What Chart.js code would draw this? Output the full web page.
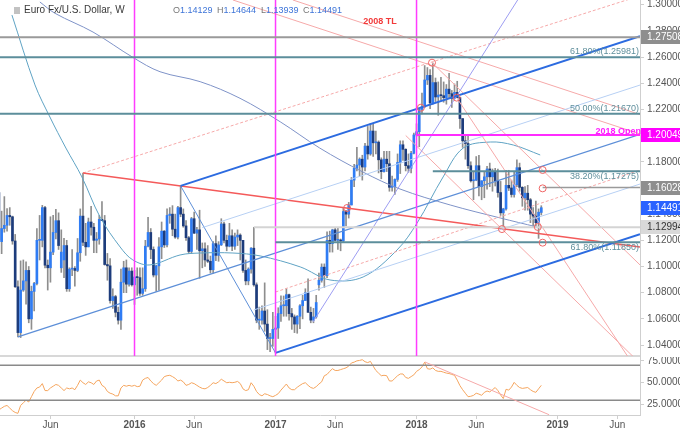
<!DOCTYPE html>
<html><head><meta charset="utf-8">
<script src="https://cdn.jsdelivr.net/npm/chart.js@4.4.1/dist/chart.umd.min.js"></script>
<style>
html,body{margin:0;padding:0;background:#fff;}
#wrap{position:relative;width:680px;height:432px;overflow:hidden;font-family:"Liberation Sans",Arial,sans-serif;}
#cA{position:absolute;left:0;top:0;}
#cB{position:absolute;left:0;top:357px;}
.t{position:absolute;top:4px;font-size:10px;line-height:12px;color:#3a3a3a;white-space:nowrap;}
.o{font-size:9px;}
.k{color:#777;}
.v{color:#3d74d8;}
#icon{position:absolute;left:14px;top:7px;width:6px;height:7px;background:#c2c2c2;}
</style></head><body>
<div id="wrap">
<canvas id="cA" width="680" height="358"></canvas>
<canvas id="cB" width="680" height="75"></canvas>
<div id="icon"></div>
<div class="t" style="left:24px">Euro Fx/U.S. Dollar, W</div>
<div class="t o" style="left:173px"><span class="k">O</span><span class="v" id="vo"></span></div>
<div class="t o" style="left:217px"><span class="k">H</span><span class="v" id="vh"></span></div>
<div class="t o" style="left:261px"><span class="k">L</span><span class="v" id="vl"></span></div>
<div class="t o" style="left:303px"><span class="k">C</span><span class="v" id="vc"></span></div>
</div>
<script>
// ---- weekly bars; x = week number counted from 2016-01-04 (first bar = 2015-01-19) ----
const firstWeek = -50;
const opens = [
1.1565,1.1190,1.1290,1.1315,1.1390,1.1380,1.1195,1.0845,1.0495,1.0820,
1.0890,1.0970,1.0600,1.0810,1.0870,1.1200,1.1200,1.1450,1.1010,1.0990,
1.1110,1.1260,1.1350,1.0990,1.1050,1.1160,1.0830,1.0980,1.0985,1.0970,
1.1105,1.1385,1.1185,1.1150,1.1340,1.1300,1.1200,1.1210,1.1360,1.1350,
1.1015,1.1005,1.0740,1.0770,1.0650,1.0590,1.0880,1.0990,1.0865,1.0965,
1.0860,1.0920,1.0915,1.0795,1.0830,1.1155,1.1260,1.1130,1.0935,1.1005,
1.1150,1.1270,1.1165,1.1390,1.1400,1.1285,1.1225,1.1450,1.1400,1.1310,
1.1220,1.1115,1.1365,1.1255,1.1280,1.1120,1.1135,1.1050,1.1040,1.0975,
1.1175,1.1085,1.1165,1.1325,1.1200,1.1155,1.1235,1.1155,1.1225,1.1240,
1.1200,1.0970,1.0890,1.0980,1.1140,1.0860,1.0590,1.0590,1.0660,1.0560,
1.0450,1.0450,
1.0520,1.0530,1.0640,1.0700,1.0700,1.0785,1.0640,1.0615,1.0560,1.0620,
1.0700,1.0740,1.0800,1.0650,1.0590,1.0615,1.0860,1.0895,1.0995,1.0930,
1.1200,1.1175,1.1280,1.1200,1.1200,1.1195,1.1420,1.1400,1.1470,1.1660,
1.1750,1.1775,1.1820,1.1760,1.1920,1.1860,1.2035,1.1945,1.1950,1.1815,
1.1725,1.1820,1.1785,1.1605,1.1610,1.1665,1.1795,1.1930,1.1895,1.1770,
1.1750,1.1865,
1.2005,1.2030,1.2200,1.2220,1.2425,1.2460,1.2250,1.2405,1.2295,1.2310,
1.2305,1.2290,1.2355,1.2320,1.2285,1.2330,1.2290,1.2130,1.1960,1.1940,
1.1770,1.1655,1.1660,1.1770,1.1610,1.1655,1.1685,1.1745,1.1685,1.1720,
1.1655,1.1565,1.1410,1.1440,1.1620,1.1600,1.1550,1.1625,1.1755,1.1605,
1.1525,1.1560,1.1510,1.1400,1.1385,1.1335,1.14129];
const highs = [
1.1640,1.1423,1.1534,1.1443,1.1450,1.1385,1.1245,1.0890,1.1043,1.1050,
1.1035,1.1000,1.0850,1.0880,1.1290,1.1390,1.1467,1.1460,1.1050,1.1380,
1.1390,1.1436,1.1410,1.1280,1.1215,1.1200,1.0990,1.1130,1.1000,1.1214,
1.1440,1.1714,1.1330,1.1370,1.1460,1.1330,1.1260,1.1390,1.1495,1.1390,
1.1100,1.1060,1.0830,1.0780,1.0690,1.0980,1.1040,1.1050,1.0990,1.0990,
1.0970,1.0990,1.0990,1.0990,1.1200,1.1376,1.1290,1.1150,1.1010,1.1220,
1.1340,1.1275,1.1440,1.1450,1.1465,1.1400,1.1460,1.1616,1.1440,1.1350,
1.1230,1.1375,1.1415,1.1300,1.1430,1.1180,1.1180,1.1160,1.1080,1.1190,
1.1235,1.1190,1.1365,1.1340,1.1240,1.1330,1.1280,1.1255,1.1280,1.1250,
1.1200,1.1050,1.0990,1.1145,1.1300,1.0875,1.0690,1.0700,1.0875,1.0670,
1.0490,1.0650,
1.0620,1.0685,1.0775,1.0775,1.0830,1.0790,1.0680,1.0630,1.0625,1.0710,
1.0780,1.0830,1.0905,1.0690,1.0680,1.0780,1.0950,1.1020,1.1020,1.1265,
1.1270,1.1285,1.1295,1.1296,1.1210,1.1445,1.1430,1.1490,1.1680,1.1780,
1.1910,1.1830,1.1850,1.1940,1.2070,1.2092,1.2090,1.2035,1.1960,1.1830,
1.1880,1.1880,1.1880,1.1690,1.1670,1.1860,1.1960,1.1960,1.1900,1.1860,
1.1880,1.2020,
1.2090,1.2200,1.2325,1.2535,1.2520,1.2505,1.2555,1.2440,1.2410,1.2445,
1.2410,1.2390,1.2475,1.2345,1.2395,1.2415,1.2290,1.2130,1.2000,1.1995,
1.1800,1.1725,1.1840,1.1850,1.1655,1.1720,1.1765,1.1790,1.1745,1.1750,
1.1745,1.1650,1.1445,1.1735,1.1735,1.1660,1.1720,1.1815,1.1790,1.1610,
1.1610,1.1620,1.1520,1.1450,1.1500,1.1440,1.14644];
const lows = [
1.1115,1.1098,1.1262,1.1270,1.1315,1.1170,1.0840,1.0462,1.0457,1.0810,
1.0712,1.0570,1.0520,1.0660,1.0860,1.1050,1.1150,1.0990,1.0820,1.0880,
1.1090,1.1210,1.1130,1.0955,1.0915,1.0810,1.0810,1.0930,1.0850,1.0960,
1.1040,1.1160,1.1085,1.1150,1.1240,1.1105,1.1105,1.1170,1.1350,1.1010,
1.0895,1.0720,1.0680,1.0615,1.0560,1.0520,1.0800,1.0800,1.0850,1.0850,
1.0710,1.0780,1.0780,1.0780,1.0810,1.1150,1.1060,1.0920,1.0810,1.0820,
1.1060,1.1145,1.1150,1.1330,1.1235,1.1215,1.1210,1.1380,1.1300,1.1200,
1.1100,1.1100,1.1250,1.1130,1.0910,1.0990,1.1000,1.1030,1.0950,1.0950,
1.1045,1.1040,1.1160,1.1180,1.1120,1.1150,1.1120,1.1130,1.1160,1.1050,
1.0955,1.0860,1.0860,1.0950,1.0850,1.0570,1.0520,1.0560,1.0505,1.0365,
1.0350,1.0390,
1.0340,1.0450,1.0580,1.0620,1.0620,1.0590,1.0520,1.0495,1.0490,1.0525,
1.0600,1.0740,1.0650,1.0570,1.0570,1.0605,1.0820,1.0880,1.0840,1.0915,
1.1110,1.1110,1.1195,1.1130,1.1120,1.1185,1.1310,1.1370,1.1470,1.1610,
1.1730,1.1690,1.1660,1.1730,1.1820,1.1850,1.1840,1.1860,1.1715,1.1670,
1.1720,1.1725,1.1575,1.1575,1.1550,1.1650,1.1710,1.1810,1.1730,1.1720,
1.1715,1.1860,
1.1995,1.1915,1.2165,1.2215,1.2390,1.2205,1.2240,1.2260,1.2155,1.2270,
1.2255,1.2240,1.2290,1.2215,1.2280,1.2290,1.2055,1.1910,1.1820,1.1750,
1.1645,1.1510,1.1655,1.1540,1.1510,1.1525,1.1590,1.1610,1.1575,1.1615,
1.1530,1.1390,1.1301,1.1430,1.1580,1.1530,1.1530,1.1610,1.1575,1.1460,
1.1430,1.1430,1.1335,1.1300,1.1310,1.1215,1.13939];
const closes = [
1.1204,1.1290,1.1315,1.1390,1.1380,1.1195,1.0845,1.0495,1.0820,1.0890,
1.0970,1.0600,1.0810,1.0870,1.1200,1.1200,1.1450,1.1010,1.0990,1.1110,
1.1260,1.1350,1.1160,1.1110,1.1160,1.0830,1.0980,1.0985,1.0970,1.1105,
1.1385,1.1185,1.1150,1.1340,1.1300,1.1200,1.1210,1.1360,1.1350,1.1015,
1.1005,1.0740,1.0770,1.0650,1.0590,1.0880,1.0990,1.0865,1.0965,1.0860,
1.0920,1.0915,1.0795,1.0830,1.1155,1.1260,1.1130,1.0935,1.1005,1.1150,
1.1270,1.1165,1.1390,1.1400,1.1285,1.1225,1.1450,1.1400,1.1310,1.1220,
1.1115,1.1365,1.1255,1.1280,1.1120,1.1135,1.1050,1.1040,1.0975,1.1175,
1.1085,1.1165,1.1325,1.1200,1.1155,1.1235,1.1155,1.1225,1.1240,1.1200,
1.0970,1.0890,1.0980,1.1140,1.0860,1.0590,1.0590,1.0660,1.0560,1.0450,
1.0450,1.0520,
1.0530,1.0640,1.0700,1.0700,1.0785,1.0640,1.0615,1.0560,1.0620,1.0700,
1.0740,1.0800,1.0650,1.0590,1.0615,1.0725,1.0895,1.0995,1.0930,1.1200,
1.1175,1.1280,1.1200,1.1200,1.1195,1.1420,1.1400,1.1470,1.1660,1.1750,
1.1775,1.1820,1.1760,1.1920,1.1860,1.2035,1.1945,1.1950,1.1815,1.1725,
1.1820,1.1785,1.1605,1.1610,1.1665,1.1795,1.1930,1.1895,1.1770,1.1750,
1.1865,1.2005,
1.2030,1.2200,1.2220,1.2425,1.2460,1.2250,1.2405,1.2295,1.2310,1.2305,
1.2290,1.2355,1.2320,1.2285,1.2330,1.2290,1.2130,1.1960,1.1940,1.1770,
1.1655,1.1660,1.1770,1.1610,1.1655,1.1685,1.1745,1.1685,1.1720,1.1655,
1.1565,1.1410,1.1440,1.1620,1.1600,1.1550,1.1625,1.1755,1.1605,1.1525,
1.1560,1.1510,1.1400,1.1385,1.1335,1.1415,1.14491];
// RSI(14), one value per bar
const rsiValues = [
19,21,23,24,21,18,16,15,24,27, 30,28,34,40,44,45,49,41,41,44,
46,48,47,44,41,44,43,44,42,47, 53,50,48,51,50,48,52,53,47,45,
40,38,37,35,35,44,47,46,47,46,
47,45.5,46,53,55,56,52,49,47,50, 53,57,58,58.5,57,55,52,53,51,47,
48,50,49,47,45,43.5,43,44.5,47,50, 49,51,54,52,50,50.5,50,50.5,51.5,49,
43,41,42,50,46,40,36.5,35,37.4,36.5, 35,34,35.5,37.5,41.5,45,48.5,44,42,42,
44.8,47,49,50,47,44.5,43.5,45.5,48.5,51, 58,59.5,63,66,64,64,65,66,67,69,
72.6,73.5,75,75.5,76.3,74,73,74.4,69,64, 61,58,58.5,58,52,52,55,58,60,60,
56,55,57,59,63,65,68,73.5,66,65.5, 67,64,63,63,62,61,60.5,59.5,58.5,53,
46.7,42,38,34,34.5,35.5,38,37,35.6,39, 40.5,39.5,42,44.5,41,36,31.9,42.5,41.5,45,
50.4,47,44.5,43.5,44,44.5,42,40,39,43, 47];
// moving averages: [week, price]
const ma52 = [[-45.2,1.2921],[-36.7,1.2387],[-31.2,1.2142],[-25.3,1.1905],[-19.4,1.1684],[-12.7,1.1378],[-5.3,1.1149],[-0.6,1.1050],[5.7,1.1012],[16.8,1.1088],[24.2,1.1103],[36.3,1.1103],[46.3,1.1081],[61.1,1.0997],[72.1,1.0897],[84.3,1.0920],[96.8,1.1126],[104.2,1.1332],[113.8,1.1684],[121.2,1.1905],[131.2,1.1951],[139.7,1.1928],[149.6,1.1852]];
const ma200 = [[-34.9,1.3021],[-29.3,1.2934],[-15.3,1.2791],[-0.4,1.2595],[9.4,1.2488],[24.2,1.2412],[38.9,1.2285],[53.7,1.2106],[68.3,1.1905],[84.2,1.1722],[97.9,1.1592],[116.4,1.1470],[134.8,1.1371],[148.4,1.1302]];
// trendlines: [[week, price],[week, price]]
const channelUpper = [[17,1.1616],[186.4,1.2759]];
const channelLower = [[52,1.0340],[186.4,1.1247]];
const channelMid = [[-43,1.0462],[186.4,1.2010]];
const quarterUpper = [[25,1.1297],[186.4,1.2386]];
const quarterLower = [[44,1.0668],[186.4,1.1630]];
const swingLine = [[17,1.1616],[52,1.0340]];
const steepSupport = [[65.8,1.0576],[150,1.3320]];
const redTrend = [[-19,1.1714],[186.4,1.1149]];
const redParallelA = [[-19,1.1714],[186.4,1.3068]];
const redParallelB = [[52,1.0805],[186.4,1.1737]];
const redDescA = [[109.7,1.2557],[186.4,1.1012]];
const redDescB = [[100,1.2001],[186.4,1.0261]];
const redDescC = [[118.8,1.2290],[186.4,1.0171]];
const tl2008 = [[58.4,1.3036],[186.4,1.2161]];
const tl2008b = [[36.3,1.3036],[186.4,1.2012]];
const rsiTrend = [[107.1,73.7],[152.9,13.4]];
const touchPoints = [[109.7,1.2557],[105.6,1.2213],[118.8,1.2290],[150.5,1.1737],[150.5,1.1597],[148.7,1.1302],[135.5,1.1286],[150.5,1.1182],[78.4,1.1447]];
// horizontal levels
const fibLevels = [1.25981,1.21670,1.17275,1.11850];
const fibRatios = [61.80,50.00,38.20,61.80];
const fibFrom = [-60,-60,110,52];
const levels = {y2014:1.27508, open2018:1.20049, res:1.16028, sup:1.12994};
const levelFrom = {y2014:-60, open2018:104, res:150.5, sup:44};
const yearStarts = [0,52,104];
// axis ticks
const priceTicks = [1.04,1.06,1.08,1.10,1.12,1.14,1.16,1.18,1.20,1.22,1.24,1.26,1.28,1.30];
const rsiTicks = [25,50,75];
const xTickWeeks = [-31,0,22,52,74,104,126,156,178];
const xTickLabels = ['Jun','2016','Jun','2017','Jun','2018','Jun','2019','Jun'];
const yearLabels = ['2016','2017','2018','2019'];

// ---------------------------------------------------------------
const last = closes.length - 1;
document.getElementById('vo').textContent = opens[last].toFixed(5);
document.getElementById('vh').textContent = highs[last].toFixed(5);
document.getElementById('vl').textContent = lows[last].toFixed(5);
document.getElementById('vc').textContent = closes[last].toFixed(5);

const FONT = '"Liberation Sans", Arial, sans-serif';
const xMin = -49.6, xMax = 186.4;
const weeks = opens.map((_, i) => firstWeek + i);
const UP = '#2f7cf4', DOWN = '#1d3c7c';

function seg(pts, color, width, dash, order) {
  return {type:'line', data: pts.map(p => ({x:p[0], y:p[1]})), borderColor: color, borderWidth: width,
    borderDash: dash || [], pointRadius: 0, fill: false, tension: 0, order: order || 0};
}
function hline(v, from, color, width) { return seg([[from, v],[200, v]], color, width); }
function curve(pts, color) { const d = seg(pts, color, 1, null, 5); d.tension = 0.35; return d; }

const teal = '#5c8e9b', paleRed = '#f6a9a9';
const dsA = [];
dsA.push({type:'line', data: touchPoints.map(p => ({x:p[0], y:p[1]})), showLine:false, pointRadius:3.5,
  pointBorderColor:'#f06666', pointBackgroundColor:'rgba(255,255,255,0)', pointBorderWidth:1, order:-1});
dsA.push(hline(levels.y2014, levelFrom.y2014, '#9a9a9a', 2));
fibLevels.forEach((v, i) => dsA.push(hline(v, fibFrom[i], teal, 2)));
dsA.push(hline(levels.open2018, levelFrom.open2018, '#ff2cff', 2));
dsA.push(hline(levels.res, levelFrom.res, '#9a9a9a', 1.5));
dsA.push(hline(levels.sup, levelFrom.sup, '#d4d4d4', 2));
yearStarts.forEach(w => dsA.push(seg([[w, 0.9],[w, 1.5]], '#ff3cff', 1.5)));
dsA.push(seg(channelUpper, '#2c6be0', 2));
dsA.push(seg(channelLower, '#2c6be0', 2));
dsA.push(seg(channelMid, '#5d8fd8', 1.2));
dsA.push(seg(quarterUpper, '#b7d0f4', 1));
dsA.push(seg(quarterLower, '#b7d0f4', 1));
dsA.push(seg(swingLine, '#5d8fd8', 1));
dsA.push(seg(steepSupport, '#9d9df2', 1));
dsA.push(seg(redTrend, '#f45a5a', 1.5));
dsA.push(seg(redParallelA, paleRed, 1, [3,2]));
dsA.push(seg(redParallelB, paleRed, 1, [3,2]));
dsA.push(seg(redDescA, paleRed, 1));
dsA.push(seg(redDescB, paleRed, 1));
dsA.push(seg(redDescC, paleRed, 1));
dsA.push(seg(tl2008, paleRed, 1));
dsA.push(seg(tl2008b, paleRed, 1));
dsA.push(curve(ma52, '#5fa3c4'));
dsA.push(curve(ma200, '#7f93c8'));
dsA.push({type:'bar', data: weeks.map((w, i) => ({x:w, y:[opens[i], closes[i]]})),
  backgroundColor: weeks.map((w, i) => closes[i] >= opens[i] ? UP : DOWN),
  barThickness: 2, minBarLength: 1, grouped: false, borderWidth: 0, order: 19});
dsA.push({type:'bar', data: weeks.map((w, i) => ({x:w, y:[lows[i], highs[i]]})),
  backgroundColor: '#8e8e8e', barThickness: 1, grouped: false, borderWidth: 0, order: 20});

const annot = {
  id: 'annot',
  afterDraw(chart) {
    const {ctx, chartArea: a, scales: {x, y}} = chart;
    ctx.save();
    ctx.font = '9px ' + FONT; ctx.fillStyle = '#5f8f9c'; ctx.textAlign = 'right';
    fibLevels.forEach((v, i) => {
      const py = y.getPixelForValue(v);
      const below = fibFrom[i] > 0;
      ctx.textBaseline = below ? 'top' : 'bottom';
      ctx.fillText(fibRatios[i].toFixed(2) + '%(' + v.toFixed(5) + ')', a.right - 1, below ? py + 1 : py - 1);
    });
    ctx.font = 'bold 9px ' + FONT; ctx.fillStyle = '#ff1cff'; ctx.textBaseline = 'middle'; ctx.textAlign = 'right';
    ctx.fillText('2018 Open', a.right + 1, y.getPixelForValue(levels.open2018) - 3);
    ctx.fillStyle = '#f23a3a'; ctx.textAlign = 'center';
    ctx.fillText('2008 TL', x.getPixelForValue(90.5), y.getPixelForValue(1.2875));
    const boxes = [[levels.y2014,'#8e8e8e','#fff'],[levels.open2018,'#ff00ff','#fff'],[levels.res,'#8e8e8e','#fff'],
      [closes[last],'#2962ff','#fff'],[levels.sup,'#d9d9d9','#333']];
    ctx.font = '10px ' + FONT; ctx.textAlign = 'left'; ctx.textBaseline = 'middle';
    boxes.forEach(b => {
      const py = Math.round(y.getPixelForValue(b[0]));
      ctx.fillStyle = b[1]; ctx.fillRect(a.right + 1, py - 7, chart.width - a.right - 1, 14);
      ctx.fillStyle = b[2]; ctx.fillText(b[0].toFixed(5), a.right + 7, py + 0.5);
    });
    ctx.restore();
  }
};

new Chart(document.getElementById('cA'), {
  type:'line',
  data:{datasets: dsA},
  options:{
    responsive:false, animation:false, devicePixelRatio:1, events:[],
    layout:{padding:0, autoPadding:false},
    plugins:{legend:{display:false}, tooltip:{enabled:false}},
    scales:{
      x:{type:'linear', min:xMin, max:xMax, offset:false,
        ticks:{display:false}, grid:{display:false, drawTicks:false},
        border:{display:true, color:'#d8d8d8', width:2},
        afterFit(s){ s.height = 2; s.paddingLeft = 0; s.paddingRight = 0; }},
      y:{type:'linear', position:'right', min: 1.30 - (356 - 4.7) / 1309, max: 1.30 + 4.7 / 1309,
        grid:{display:true, drawOnChartArea:false, drawTicks:true, tickLength:4, color:'#cfcfcf'},
        border:{display:true, color:'#cfcfcf'},
        ticks:{autoSkip:false, padding:3, color:'#555', font:{size:10, family:FONT}, callback: v => v.toFixed(5)},
        afterBuildTicks(s){ s.ticks = priceTicks.map(v => ({value:v})); },
        afterFit(s){ s.width = 40; s.paddingTop = 0; s.paddingBottom = 0; }}
    }
  },
  plugins:[annot]
});

new Chart(document.getElementById('cB'), {
  type:'line',
  data:{datasets:[
    seg(rsiTrend, paleRed, 1),
    seg([[-60,70],[200,70]], '#8a8a8a', 1.5),
    seg([[-60,30],[200,30]], '#8a8a8a', 1.5),
    {type:'line', data: weeks.map((w, i) => ({x:w, y:rsiValues[i]})), borderColor:'#f5a55e', borderWidth:1,
      pointRadius:0, fill:false, tension:0, order:3}
  ]},
  options:{
    responsive:false, animation:false, devicePixelRatio:1, events:[],
    layout:{padding:0, autoPadding:false},
    plugins:{legend:{display:false}, tooltip:{enabled:false}},
    scales:{
      x:{type:'linear', min:xMin, max:xMax, offset:false,
        grid:{display:true, drawOnChartArea:false, drawTicks:true, tickLength:4, color:'#cfcfcf'},
        border:{display:true, color:'#cfcfcf'},
        ticks:{autoSkip:false, maxRotation:0, padding:0, color:'#555',
          font: c => ({size:10, family:FONT, weight: (c.tick && yearLabels.includes(xTickLabels[xTickWeeks.indexOf(c.tick.value)])) ? 'bold' : 'normal'}),
          callback: v => xTickLabels[xTickWeeks.indexOf(v)]},
        afterBuildTicks(s){ s.ticks = xTickWeeks.map(v => ({value:v})); },
        afterFit(s){ s.height = 17; s.paddingLeft = 0; s.paddingRight = 0; }},
      y:{type:'linear', position:'right', min:13.1, max:79.4,
        grid:{display:true, drawOnChartArea:false, drawTicks:true, tickLength:4, color:'#cfcfcf'},
        border:{display:true, color:'#cfcfcf'},
        ticks:{autoSkip:false, padding:3, color:'#555', font:{size:10, family:FONT}, callback: v => v.toFixed(4)},
        afterBuildTicks(s){ s.ticks = rsiTicks.map(v => ({value:v})); },
        afterFit(s){ s.width = 40; s.paddingTop = 0; s.paddingBottom = 0; }}
    }
  }
});
</script>
</body></html>
